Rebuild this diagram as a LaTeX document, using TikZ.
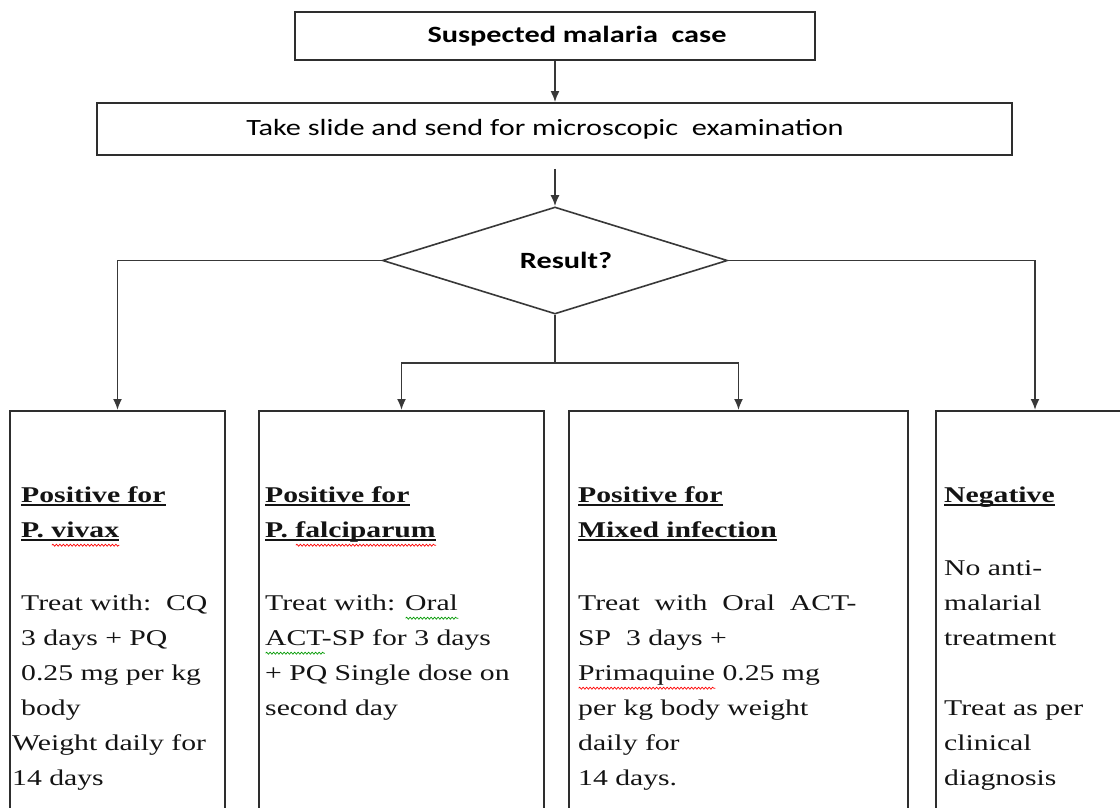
\documentclass[tikz,border=0pt]{standalone}
\usepackage{fontspec}
\usetikzlibrary{arrows.meta,shapes.geometric,decorations.pathmorphing}
\newfontfamily\timesfont[FakeStretch=1.32]{Liberation Serif}
\newfontfamily\calfont[FakeStretch=1.3]{Carlito}
\newlength\ulw
\newlength\sqw
\newcommand\hul[1]{\settowidth{\ulw}{#1}\rlap{\rule[-3.5pt]{\ulw}{1.8pt}}#1}
\newcommand\squig[2]{\settowidth{\sqw}{#2}\rlap{\tikz[baseline=0pt]\draw[#1, line width=0.7pt, decorate, decoration={snake, segment length=3.5pt, amplitude=1pt}] (0pt,-8pt) -- (\sqw,-8pt);}#2}
\tikzset{
  line/.style={draw=black!78, line width=1.8pt},
  arr/.style={line, -{Latex[length=11pt,width=9pt]}},
  box/.style={draw=black!82, line width=1.8pt, rectangle, inner sep=0pt},
  calreg/.style={font=\calfont\fontsize{23.3}{28}\selectfont},
  calbold/.style={font=\calfont\bfseries\fontsize{23.3}{28}\selectfont},
  txt/.style={anchor=north west, inner sep=0pt, align=left, text=black!92, font=\timesfont\fontsize{22.5}{35}\selectfont}
}
\begin{document}
\begin{tikzpicture}[x=1pt,y=-1pt]
\useasboundingbox (0,0) rectangle (1120,808);
\fill[white] (0,0) rectangle (1120,808);
\clip (0,0) rectangle (1120,808);

\node[box, calbold, minimum width=520pt, minimum height=48pt] (top) at (555,36) {\hspace*{44pt}Suspected malaria\ \ case};
\node[box, calreg, minimum width=915pt, minimum height=52pt] (exam) at (554.5,129) {Take slide and send for microscopic\ \ examination\hspace*{19pt}};
\node[diamond, aspect=3.2, draw=black!78, line width=1.6pt, minimum width=345pt, minimum height=107pt, inner sep=0pt, calbold] (dia) at (555,260.5) {\hspace*{22pt}\raisebox{-4pt}{Result?}};

\node[box, anchor=north, minimum width=215pt, minimum height=430pt] (b1) at (117.5,410) {};
\node[box, anchor=north, minimum width=285pt, minimum height=430pt] (b2) at (401.5,410) {};
\node[box, anchor=north, minimum width=339pt, minimum height=430pt] (b3) at (738.5,410) {};
\node[box, anchor=north, minimum width=198pt, minimum height=430pt] (b4) at (1035,410) {};

\draw[arr] (top.south) -- (exam.north -| top.south);
\coordinate (exb) at (dia.north |- exam.south);
\coordinate (exout) at ([yshift=-13pt]exb);
\draw[arr] (exout) -- (dia.north);
\draw[arr] (dia.west) -| (b1.north);
\draw[arr] (dia.east) -| (b4.north);
\coordinate (split) at ([yshift=-48pt]dia.south);
\draw[line] (dia.south) -- (split);
\draw[arr] (split) -| (b2.north);
\draw[arr] (split) -| (b3.north);

\node[txt] (t1) at (21,477.5) {\strut\hul{\textbf{Positive for}}\\
\hul{\textbf{P. \squig{red}{vivax}}}\\[38pt]
Treat with:\ \ CQ\\
3 days + PQ\\
0.25 mg per kg\\
body\\
\hspace*{-9pt}Weight daily for\\
\hspace*{-9pt}14 days};

\node[txt] (t2) at (265,477.5) {\strut\hul{\textbf{Positive for}}\\
\hul{\textbf{P. \squig{red}{falciparum}}}\\[38pt]
Treat with: \squig{green!60!black}{Oral}\\
\squig{green!60!black}{ACT}-SP for 3 days\\
+ PQ Single dose on\\
second day};

\node[txt] (t3) at (578,477.5) {\strut\hul{\textbf{Positive for}}\\
\hul{\textbf{Mixed infection}}\\[38pt]
Treat\ \ with\ \ Oral\ \ ACT-\\
SP\ \ 3 days +\\
\squig{red}{Primaquine} 0.25 mg\\
per kg body weight\\
daily for\\
14 days.};

\node[txt] (t4) at (944,477.5) {\strut\hul{\textbf{Negative}}\\[38pt]
No anti-\\
malarial\\
treatment\\[35pt]
Treat as per\\
clinical\\
diagnosis};
\end{tikzpicture}
\end{document}
